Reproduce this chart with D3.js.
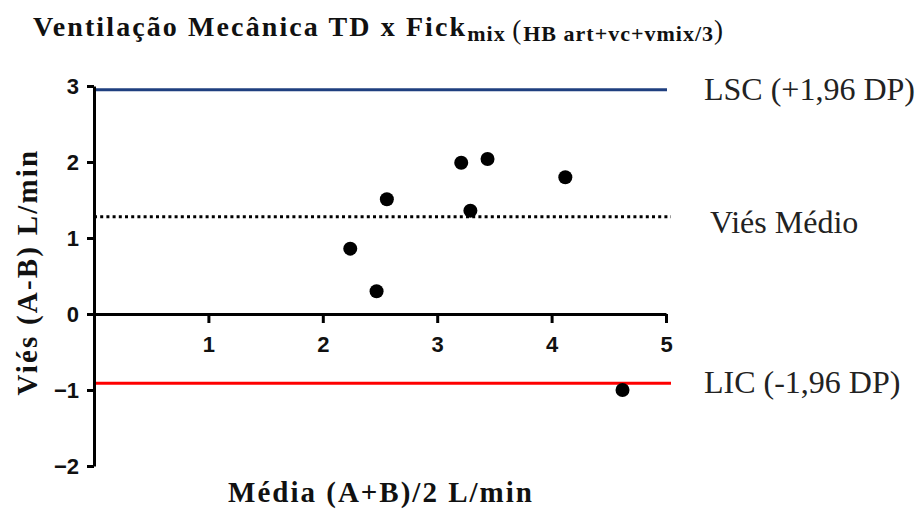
<!DOCTYPE html>
<html>
<head>
<meta charset="utf-8">
<script src="https://cdn.jsdelivr.net/npm/d3@7"></script>
<style>
  body { margin: 0; background: #fff; }
  svg { display: block; }
</style>
</head>
<body>
<div id="chart"></div>
<script>
// valores
var mediaAB = [2.24, 2.47, 2.56, 3.21, 3.29, 3.44, 4.12, 4.62];
var viesAB = [0.86, 0.30, 1.51, 1.99, 1.36, 2.04, 1.80, -1.00];
var xTicks = [1, 2, 3, 4, 5];
var yTicks = [-2, -1, 0, 1, 2, 3];
var limites = [
    { nome: 'LSC (+1,96 DP)', valor: 2.95, cor: '#1f3f7f', dash: null },
    { nome: 'Viés Médio', valor: 1.28, cor: '#000', dash: '3,3.2' },
    { nome: 'LIC (-1,96 DP)', valor: -0.91, cor: '#ff0000', dash: null }
];

var W = 921, H = 509;
var svg = d3.select('#chart').append('svg')
    .attr('width', W)
    .attr('height', H);

var x = d3.scaleLinear().domain([0, 5]).range([94, 666]);
var y = d3.scaleLinear().domain([-2, 3]).range([466, 86]);

var serif = '"Liberation Serif", "Times New Roman", serif';
var sans = '"Liberation Sans", Arial, sans-serif';

// titulo
var title = svg.append('text')
    .attr('x', 33)
    .attr('y', 36)
    .style('font-family', serif)
    .style('font-weight', 'bold')
    .style('font-size', '28px')
    .style('letter-spacing', '2.1px')
    .attr('fill', '#111');
title.append('tspan').text('Ventilação Mecânica TD x Fick');
title.append('tspan').attr('dy', 5).style('font-size', '22px').style('letter-spacing', '1px').text('mix ');
title.append('tspan').attr('dy', -2).style('font-size', '27px').style('font-weight', 'normal').text('(');
title.append('tspan').attr('dy', 2).style('font-size', '22px').style('letter-spacing', '1px').text('HB art+vc+vmix/3');
title.append('tspan').attr('dy', -2).style('font-size', '27px').style('font-weight', 'normal').text(')');

// linhas de limite e vies
svg.selectAll('line.lim')
    .data(limites)
    .enter().append('line')
    .attr('class', 'lim')
    .attr('x1', x(0))
    .attr('x2', function(d, i) { return i == 0 ? x(5) + 1 : x(5) + 5; })
    .attr('y1', function(d) { return y(d.valor); })
    .attr('y2', function(d) { return y(d.valor); })
    .attr('stroke', function(d) { return d.cor; })
    .attr('stroke-width', 3)
    .attr('stroke-dasharray', function(d) { return d.dash; });

svg.selectAll('text.lim')
    .data(limites)
    .enter().append('text')
    .attr('class', 'lim')
    .attr('x', function(d, i) { return i == 1 ? 710 : 704; })
    .attr('y', function(d) { return y(d.valor); })
    .attr('dy', function(d, i) { return i == 1 ? 16 : 10; })
    .style('font-family', serif)
    .style('font-size', '32px')
    .attr('fill', '#222')
    .text(function(d) { return d.nome; });

// eixos
var yAxis = d3.axisLeft(y)
    .tickValues(yTicks)
    .tickSize(7)
    .tickSizeOuter(0)
    .tickPadding(8)
    .tickFormat(d3.format('d'));

var xAxis = d3.axisBottom(x)
    .tickValues(xTicks)
    .tickSize(9)
    .tickSizeOuter(0)
    .tickPadding(13)
    .tickFormat(d3.format('d'));

var gy = svg.append('g')
    .attr('transform', 'translate(' + x(0) + ',0)')
    .call(yAxis);

var gx = svg.append('g')
    .attr('transform', 'translate(0,' + y(0) + ')')
    .call(xAxis);

[gx, gy].forEach(function(g) {
    g.select('.domain').attr('stroke', '#000').attr('stroke-width', 3);
    g.selectAll('.tick line').attr('stroke', '#000').attr('stroke-width', 3);
    g.selectAll('.tick text')
        .attr('fill', '#111')
        .style('font-family', sans)
        .style('font-weight', 'bold')
        .style('font-size', '22px');
});

// pontos
svg.selectAll('circle.pt')
    .data(mediaAB)
    .enter().append('circle')
    .attr('class', 'pt')
    .attr('cx', function(d) { return x(d); })
    .attr('cy', function(d, i) { return y(viesAB[i]); })
    .attr('r', 7)
    .attr('fill', '#000');

// titulos dos eixos
svg.append('text')
    .attr('x', 381)
    .attr('y', 502)
    .attr('text-anchor', 'middle')
    .style('font-family', serif)
    .style('font-weight', 'bold')
    .style('font-size', '29px')
    .style('letter-spacing', '2px')
    .attr('fill', '#111')
    .text('Média (A+B)/2 L/min');

svg.append('text')
    .attr('transform', 'translate(37,272) rotate(-90)')
    .attr('text-anchor', 'middle')
    .style('font-family', serif)
    .style('font-weight', 'bold')
    .style('font-size', '29px')
    .style('letter-spacing', '2.2px')
    .attr('fill', '#111')
    .text('Viés (A-B) L/min');
</script>
</body>
</html>
